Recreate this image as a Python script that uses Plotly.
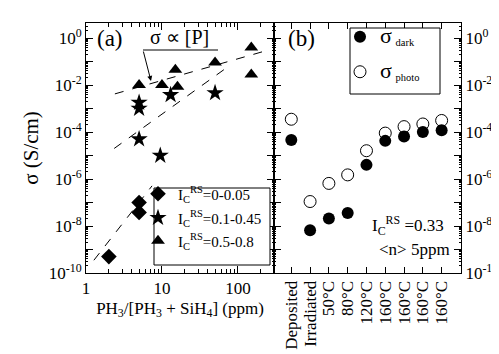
import plotly.graph_objects as go
import numpy as np

# ---- Panel (a) data ----
tri_x = [5, 10, 15, 16, 50, 150, 150]
tri_y = [1.0e-2, 1.0e-2, 4.5e-2, 8.5e-3, 9.0e-2, 4.0e-1, 2.8e-2]
star_x = [5, 5, 5, 9.5, 13, 50]
star_y = [1.8e-3, 1.0e-3, 5.0e-5, 1.0e-5, 3.8e-3, 4.6e-3]
dia_x = [5, 5, 2]
dia_y = [1.0e-7, 3.8e-8, 5.0e-10]
fit1_x = [2.4, 263]
fit1_y = [4.2e-3, 3.2e-1]
fit2_x = [2.35, 81]
fit2_y = [2.0e-5, 7.4e-2]
fit3_x = [1.27, 7.4]
fit3_y = [3.5e-10, 5.1e-7]

# ---- Panel (b) data ----
cats = ["Deposited", "Irradiated", "50°C", "80°C", "120°C", "160°C", "160°C", "160°C", "160°C"]
dark = [4.6e-5, 6.6e-9, 2.1e-8, 3.6e-8, 4.0e-6, 4.2e-5, 6.4e-5, 1.0e-4, 1.2e-4]
photo = [3.5e-4, 1.1e-7, 6.5e-7, 1.5e-6, 1.6e-5, 9.0e-5, 1.7e-4, 2.2e-4, 3.1e-4]

ytick_vals = [10.0 ** k for k in range(-10, 1)]
ytick_text = ["10<sup>%d</sup>" % k if k % 2 == 0 else "" for k in range(-10, 1)]
ymin_vals = [m * 10.0 ** k for k in range(-10, 1) for m in range(2, 10)]
xtick_vals = [1, 10, 100]
xmin_vals = [m * 10.0 ** k for k in range(0, 3) for m in range(2, 10)]

FONT = "Liberation Serif, Times New Roman, serif"
fig = go.Figure()

def px(xp): return (xp - 78) / 375
def py(yp): return (265 - yp) / 250

legfont = dict(family=FONT, size=15, color="black")
MOFF = 27  # approx offset of legend marker from legend left edge (px)

def leg(xm, ym):
    return dict(x=px(xm - MOFF), y=py(ym), xanchor="left", yanchor="middle",
                bgcolor="rgba(0,0,0,0)", borderwidth=0, font=legfont, itemwidth=30)

fig.add_trace(go.Scatter(x=dia_x, y=dia_y, mode="markers", xaxis="x", yaxis="y",
                         marker=dict(symbol="diamond", size=12, color="black"),
                         name="I<sub>C</sub><sup>RS</sup>=0-0.05", legend="legend"))
fig.add_trace(go.Scatter(x=star_x, y=star_y, mode="markers", xaxis="x", yaxis="y",
                         marker=dict(symbol="star", size=13, color="black"),
                         name="I<sub>C</sub><sup>RS</sup>=0.1-0.45", legend="legend3"))
fig.add_trace(go.Scatter(x=tri_x, y=tri_y, mode="markers", xaxis="x", yaxis="y",
                         marker=dict(symbol="triangle-up", size=12, color="black"),
                         name="I<sub>C</sub><sup>RS</sup>=0.5-0.8", legend="legend4"))
for fx, fy in [(fit1_x, fit1_y), (fit2_x, fit2_y), (fit3_x, fit3_y)]:
    fig.add_trace(go.Scatter(x=fx, y=fy, mode="lines", xaxis="x", yaxis="y",
                             line=dict(color="black", width=1, dash="dash"), showlegend=False))

idx = list(range(len(cats)))
fig.add_trace(go.Scatter(x=idx, y=dark, mode="markers", xaxis="x2", yaxis="y2",
                         marker=dict(symbol="circle", size=12, color="black"),
                         name="<span style='font-size:22px'>σ</span> <sub>dark</sub>", legend="legend2"))
fig.add_trace(go.Scatter(x=idx, y=photo, mode="markers", xaxis="x2", yaxis="y2",
                         marker=dict(symbol="circle-open", size=12, color="black", line=dict(width=1)),
                         name="<span style='font-size:22px'>σ</span> <sub>photo</sub>", legend="legend5"))

axcommon = dict(showline=True, linecolor="black", linewidth=1, mirror="allticks",
                ticks="inside", tickcolor="black", showgrid=False, zeroline=False, automargin=False,
                tickfont=dict(family=FONT, size=17, color="black"))
ylog = dict(type="log", range=[-10, 0.64], tickmode="array", tickvals=ytick_vals, ticktext=ytick_text,
            ticklen=7,
            minor=dict(ticks="inside", ticklen=2, tickcolor="black", showgrid=False,
                       tickmode="array", tickvals=ymin_vals))

D = 188 / 375
fig.update_layout(
    width=499, height=354,
    margin=dict(l=78, r=46, t=15, b=89, autoexpand=False),
    paper_bgcolor="white", plot_bgcolor="white",
    font=dict(family=FONT, color="black"),
    xaxis=dict(domain=[0, D], type="log", range=[0, 2.475], anchor="y",
               tickmode="array", tickvals=xtick_vals, ticktext=["1", "10", "100"], ticklen=7,
               minor=dict(ticks="inside", ticklen=4, tickcolor="black", showgrid=False,
                          tickmode="array", tickvals=xmin_vals),
               title=dict(text="PH<sub>3</sub>/[PH<sub>3</sub> + SiH<sub>4</sub>] (ppm)",
                          font=dict(family=FONT, size=17), standoff=4),
               **axcommon),
    yaxis=dict(domain=[0, 1], anchor="x",
               title=dict(text="σ (S/cm)", font=dict(family=FONT, size=21), standoff=4),
               **ylog, **axcommon),
    xaxis2=dict(domain=[D, 1], range=[-0.92, 9.03], anchor="y2",
                tickmode="array", tickvals=idx, ticktext=cats, tickangle=-90, ticklen=6,
                **axcommon),
    yaxis2=dict(domain=[0, 1], anchor="x2", side="right", matches="y", **ylog, **axcommon),
    legend=leg(157, 186),
    legend3=leg(157, 210),
    legend4=leg(157, 233),
    legend2=leg(359, 29),
    legend5=leg(359, 64),
    showlegend=True,
)

# legend boxes
fig.add_shape(type="rect", x0=px(146), x1=px(262), y0=py(180), y1=py(257), xref="paper", yref="paper",
              line=dict(color="black", width=1), fillcolor="white", layer="above")
fig.add_shape(type="rect", x0=px(342), x1=px(432), y0=py(20), y1=py(86), xref="paper", yref="paper",
              line=dict(color="black", width=1), fillcolor="white", layer="above")

ann = [
    dict(text="(a)", x=px(102), y=py(31), size=23),
    dict(text="(b)", x=px(293), y=py(31), size=23),
    dict(text="σ ∝ [P]", x=px(171), y=py(29), size=20),
]
for a in ann:
    fig.add_annotation(text=a["text"], x=a["x"], y=a["y"], xref="paper", yref="paper",
                       showarrow=False, xanchor="center", yanchor="middle",
                       font=dict(family=FONT, size=a["size"], color="black"))
fig.add_annotation(text="I<sub>C</sub><sup>RS</sup> =0.33", x=px(438), y=py(217), xref="paper", yref="paper",
                   showarrow=False, xanchor="right", yanchor="middle",
                   font=dict(family=FONT, size=17, color="black"))
fig.add_annotation(text="&lt;n&gt; 5ppm", x=px(444), y=py(241), xref="paper", yref="paper",
                   showarrow=False, xanchor="right", yanchor="middle",
                   font=dict(family=FONT, size=17, color="black"))
# arrow
fig.add_annotation(text="", x=px(143), y=py(73), xref="paper", yref="paper",
                   ax=135 - 143, ay=42 - 73, axref="pixel", ayref="pixel",
                   showarrow=True, arrowhead=2, arrowsize=1, arrowwidth=1, arrowcolor="black")
fig.add_shape(type="line", x0=px(135), x1=px(210), y0=py(42), y1=py(42), xref="paper", yref="paper",
              line=dict(color="black", width=1))

fig.write_html("out.html")
